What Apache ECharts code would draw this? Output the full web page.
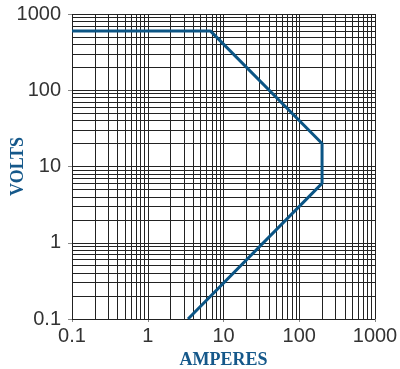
<!DOCTYPE html>
<html><head><meta charset="utf-8">
<script src="https://cdn.jsdelivr.net/npm/echarts@6/dist/echarts.min.js"></script>
<style>html,body{margin:0;padding:0;background:#fff}#c{width:400px;height:369px}</style>
</head><body><div id="c"></div>
<script>
const amperes = [0.1, 6.7, 200, 200, 3.4];
const volts = [600, 600, 20, 6, 0.1];
const xTicks = [0.1, 1, 10, 100, 1000];
const yTicks = [0.1, 1, 10, 100, 1000];
const gridMultipliers = [1, 2, 3, 4, 5, 6, 7, 8, 9];
const xTitle = 'AMPERES';
const yTitle = 'VOLTS';

const gridVals = [];
[0.1, 1, 10, 100].forEach(d => gridMultipliers.forEach(m => gridVals.push(+(d * m).toPrecision(3))));
gridVals.push(1000);

const markData = [];
gridVals.forEach(v => { markData.push({ xAxis: v }); markData.push({ yAxis: v }); });

const chart = echarts.init(document.getElementById('c'), null, { renderer: 'canvas' });
const labelStyle = { color: '#333', fontSize: 20, fontFamily: 'Liberation Sans, Arial, sans-serif' };
const nameStyle = { color: '#15588a', fontSize: 18, fontWeight: 'bold', fontFamily: 'Liberation Serif, serif' };
chart.setOption({
  animation: false,
  grid: { left: 72, right: 25, top: 14, bottom: 50, outerBoundsMode: 'none', containLabel: false },
  xAxis: {
    type: 'log', logBase: 10, min: 0.1, max: 1000,
    axisLine: { show: false },
    axisTick: { show: true, inside: false, length: 3, lineStyle: { color: '#888' } },
    splitLine: { show: false },
    axisLabel: Object.assign({ margin: 7, formatter: v => String(+v.toPrecision(3)) }, labelStyle),
    name: xTitle, nameLocation: 'middle', nameGap: 32, nameMoveOverlap: false,
    nameTextStyle: nameStyle
  },
  yAxis: {
    type: 'log', logBase: 10, min: 0.1, max: 1000,
    axisLine: { show: false },
    axisTick: { show: true, inside: false, length: 4, lineStyle: { color: '#888' } },
    splitLine: { show: false },
    axisLabel: Object.assign({ margin: 11, formatter: v => String(+v.toPrecision(3)) }, labelStyle),
    name: yTitle, nameLocation: 'middle', nameGap: 45, nameRotate: 90, nameMoveOverlap: false,
    nameTextStyle: nameStyle
  },
  series: [
    {
      type: 'line', silent: true, data: [], z: 1,
      markLine: {
        silent: true, symbol: 'none', animation: false,
        label: { show: false },
        lineStyle: { color: '#222', width: 1, type: 'solid' },
        emphasis: { disabled: true },
        data: markData
      }
    },
    {
      type: 'line', z: 5,
      data: amperes.map((a, i) => [a, volts[i]]),
      showSymbol: false, symbol: 'none',
      lineStyle: { color: '#0b5585', width: 3 }
    }
  ]
});
</script></body></html>
